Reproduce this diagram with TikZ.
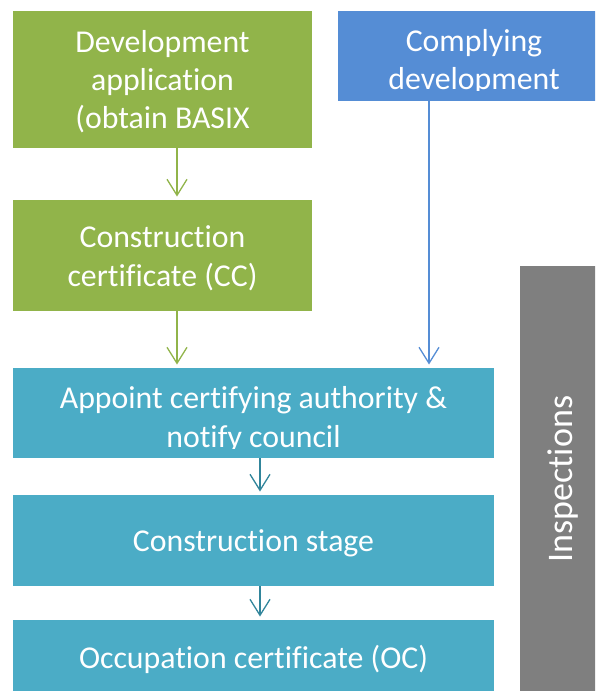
\documentclass[tikz,border=0pt]{standalone}
\usepackage{fontspec}
\setmainfont{Carlito}[Ligatures=NoCommon]
\usetikzlibrary{arrows.meta}
\definecolor{cgreen}{RGB}{145,180,74}
\definecolor{cblue}{RGB}{85,141,213}
\definecolor{cteal}{RGB}{75,172,198}
\definecolor{cteald}{RGB}{49,133,155}
\definecolor{cgray}{RGB}{127,127,127}
\begin{document}
\begin{tikzpicture}[x=1pt,y=-1pt,
  box/.style={rectangle, draw=none, inner sep=0pt, outer sep=0pt, anchor=north west},
  lbl/.style={text=white, anchor=base, inner sep=0pt, font=\fontsize{31.8}{38}\selectfont},
  arr/.style={line width=1.3pt, -{Straight Barb[length=16pt,width=20pt]}, shorten >=3.5pt}]
\clip (0,0) rectangle (595,691);
\useasboundingbox (0,0) rectangle (595,691);
% boxes
\node[box, fill=cgreen, minimum width=299pt, minimum height=137pt] (b1) at (13,11) {};
\node[box, fill=cblue, minimum width=272pt, minimum height=90pt] (b0) at (338,11) {};
\node[box, fill=cgreen, minimum width=299pt, minimum height=111pt] (b2) at (13,200) {};
\node[box, fill=cteal, minimum width=481pt, minimum height=90pt] (b3) at (13,368) {};
\node[box, fill=cteal, minimum width=481pt, minimum height=91pt] (b4) at (13,495) {};
\node[box, fill=cteal, minimum width=481pt, minimum height=90pt] (b5) at (13,620) {};
\node[box, fill=cgray, minimum width=80pt, minimum height=440pt] (b6) at (520,266) {};
% texts
\node[lbl] (t1a) at (162.5,52) {Development};
\node[lbl] (t1b) at (162.5,90) {application};
\node[lbl] (t1c) at (162.5,128) {(obtain BASIX};
\node[lbl] (t0a) at (474,51) {Complying};
\begin{scope}
  \clip (338,11) rectangle (610,90);
  \node[lbl] (t0b) at (474,89) {development};
\end{scope}
\node[lbl] (t2a) at (162.5,247) {Construction};
\node[lbl] (t2b) at (162.5,286) {certificate (CC)};
\node[lbl] (t3a) at (253.5,408) {Appoint certifying authority \&};
\begin{scope}
  \clip (13,368) rectangle (494,448);
  \node[lbl] (t3b) at (253.5,447) {notify council};
\end{scope}
\node[lbl] (t4) at (253.5,551) {Construction stage};
\node[lbl] (t5) at (253.5,668) {Occupation certificate (OC)};
\node[lbl, font=\fontsize{36}{43}\selectfont, rotate=90] (t6) at (572,479) {Inspections};
% connectors
\coordinate (gx) at (177,0);
\coordinate (bx) at (429,0);
\coordinate (tx) at (260,0);
\draw[arr, cgreen] (b1.south -| gx) -- (b2.north -| gx);
\draw[arr, cgreen] (b2.south -| gx) -- (b3.north -| gx);
\draw[arr, cblue] (b0.south -| bx) -- (b3.north -| bx);
\draw[arr, cteald] (b3.south -| tx) -- (b4.north -| tx);
\draw[arr, cteald] (b4.south -| tx) -- (b5.north -| tx);
\end{tikzpicture}
\end{document}
